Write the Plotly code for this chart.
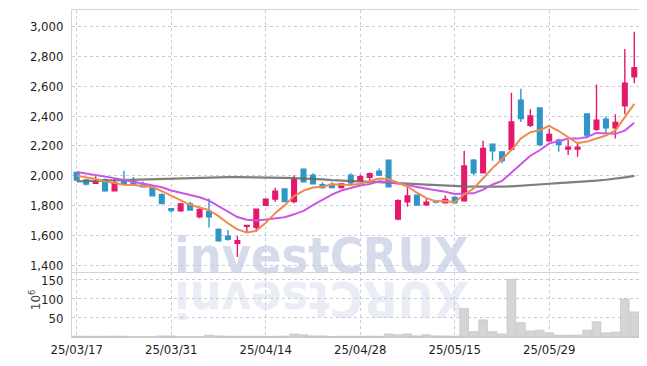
import plotly.graph_objects as go

dates = ["25/03/17", "25/03/18", "25/03/19", "25/03/20", "25/03/21", "25/03/24", "25/03/25", "25/03/26",
         "25/03/27", "25/03/28", "25/03/31", "25/04/01", "25/04/02", "25/04/03", "25/04/04", "25/04/07",
         "25/04/08", "25/04/09", "25/04/10", "25/04/11", "25/04/14", "25/04/15", "25/04/16", "25/04/17",
         "25/04/18", "25/04/21", "25/04/22", "25/04/23", "25/04/24", "25/04/25", "25/04/28", "25/04/29",
         "25/04/30", "25/05/02", "25/05/07", "25/05/08", "25/05/09", "25/05/12", "25/05/13", "25/05/14",
         "25/05/15", "25/05/16", "25/05/19", "25/05/20", "25/05/21", "25/05/22", "25/05/23", "25/05/26",
         "25/05/27", "25/05/28", "25/05/29", "25/05/30", "25/06/02", "25/06/04", "25/06/05", "25/06/09",
         "25/06/10", "25/06/11", "25/06/12", "25/06/13"]

opens = [2022, 1971, 1949, 1973, 1899, 1971, 1962, 1937, 1917, 1873,
         1779, 1765, 1810, 1725, 1758, 1640, 1595, 1546, 1660, 1654,
         1801, 1843, 1911, 1826, 2043, 2004, 1940, 1942, 1920, 2004,
         1967, 1989, 2031, 2105, 1709, 1825, 1870, 1805, 1830, 1819,
         1855, 1832, 2105, 2020, 2212, 2159, 2177, 2506, 2338, 2455,
         2235, 2239, 2179, 2179, 2414, 2311, 2380, 2322, 2470, 2664]
highs = [2027, 1978, 1996, 1982, 1982, 2034, 1991, 1962, 1922, 1882,
         1781, 1819, 1826, 1781, 1848, 1647, 1635, 1597, 1667, 1778,
         1845, 1920, 1911, 2004, 2043, 2016, 1956, 1956, 1951, 2016,
         2009, 2022, 2049, 2105, 1842, 1933, 1870, 1852, 1837, 1868,
         1864, 2168, 2112, 2235, 2217, 2166, 2557, 2584, 2446, 2460,
         2317, 2250, 2239, 2228, 2418, 2612, 2396, 2412, 2850, 2966]
lows = [1966, 1935, 1947, 1893, 1899, 1935, 1935, 1922, 1860, 1810,
        1754, 1758, 1765, 1714, 1653, 1557, 1564, 1455, 1617, 1624,
        1798, 1826, 1826, 1815, 1960, 1942, 1913, 1918, 1915, 1944,
        1960, 1967, 2000, 1926, 1702, 1792, 1803, 1798, 1814, 1814,
        1815, 1826, 2004, 2020, 2100, 2083, 2170, 2360, 2327, 2197,
        2228, 2161, 2139, 2128, 2250, 2300, 2284, 2250, 2412, 2620]
closes = [1971, 1944, 1958, 1899, 1951, 1944, 1935, 1926, 1866, 1814,
          1767, 1810, 1770, 1774, 1725, 1564, 1573, 1564, 1667, 1775,
          1842, 1897, 1826, 1976, 1960, 1946, 1920, 1920, 1944, 1953,
          1993, 2013, 2004, 1926, 1832, 1864, 1803, 1823, 1823, 1841,
          1819, 2065, 2020, 2183, 2168, 2101, 2360, 2383, 2401, 2210,
          2277, 2210, 2192, 2192, 2273, 2373, 2322, 2358, 2620, 2724]

ma_short = [2000, 1990, 1978, 1962, 1950, 1940, 1937, 1931, 1924, 1897,
            1865, 1837, 1805, 1787, 1769, 1729, 1681, 1640, 1619, 1630,
            1684, 1749, 1801, 1863, 1900, 1921, 1926, 1942, 1938, 1937,
            1946, 1965, 1981, 1978, 1954, 1928, 1886, 1850, 1829, 1831,
            1822, 1874, 1914, 1986, 2051, 2110, 2172, 2250, 2292, 2305,
            2335, 2300, 2260, 2218, 2229, 2248, 2270, 2304, 2392, 2482]
ma_mid = [2025, 2016, 2004, 1993, 1984, 1971, 1960, 1950, 1938, 1923,
          1901, 1887, 1868, 1856, 1833, 1795, 1759, 1723, 1705, 1700,
          1706, 1715, 1721, 1741, 1764, 1803, 1837, 1873, 1901, 1918,
          1934, 1945, 1963, 1958, 1945, 1937, 1925, 1916, 1903, 1892,
          1878, 1880, 1882, 1907, 1941, 1965, 2020, 2076, 2134, 2171,
          2217, 2231, 2249, 2249, 2260, 2287, 2283, 2281, 2303, 2356]
ma_long = [1962, 1964, 1966, 1968, 1970, 1972, 1974, 1976, 1978, 1980,
           1982, 1984, 1986, 1988, 1989, 1990, 1990, 1990, 1990, 1989,
           1988, 1987, 1986, 1984, 1982, 1979, 1975, 1970, 1966, 1963,
           1961, 1959, 1957, 1955, 1952, 1948, 1944, 1940, 1936, 1933,
           1930, 1928, 1927, 1926, 1926, 1927, 1929, 1932, 1936, 1941,
           1946, 1950, 1953, 1957, 1962, 1967, 1973, 1980, 1989, 1999]

volume = [2.5, 2, 2, 2, 2.5, 2, 1, 1, 1, 3,
          3, 1, 1, 1, 5, 3, 2, 2, 2, 2,
          2, 2, 2.5, 8, 6, 3, 3, 1.5, 2, 2,
          2, 2.5, 2, 8, 6, 8, 3, 6, 3, 3,
          2.5, 75, 14, 45, 14, 8, 152, 38, 16, 18,
          11, 5, 5, 5, 18, 40, 11, 13, 100, 66]

tick_dates = ["25/03/17", "25/03/31", "25/04/14", "25/04/28", "25/05/15", "25/05/29"]
price_ticks = [1400, 1600, 1800, 2000, 2200, 2400, 2600, 2800, 3000]
vol_ticks = [50, 100, 150]

UP = "#e4196c"
DOWN = "#2f96c8"
GRID = "#c6cbdf"
FONT = "DejaVu Sans Condensed, Liberation Sans Narrow, sans-serif"

fig = go.Figure()

fig.add_trace(go.Bar(
    x=dates, y=volume, xaxis="x2", yaxis="y2",
    marker=dict(color="#d5d5d7", line=dict(color="#bdbdc0", width=0.6)),
    showlegend=False, hoverinfo="skip"))

fig.add_trace(go.Candlestick(
    x=dates, open=opens, high=highs, low=lows, close=closes,
    increasing=dict(line=dict(color=UP, width=1.4), fillcolor=UP),
    decreasing=dict(line=dict(color=DOWN, width=1.4), fillcolor=DOWN),
    whiskerwidth=0, showlegend=False))

fig.add_trace(go.Scatter(x=dates, y=ma_long, mode="lines",
                         line=dict(color="rgba(105,105,105,0.85)", width=2.2), showlegend=False))
fig.add_trace(go.Scatter(x=dates, y=ma_mid, mode="lines",
                         line=dict(color="#cc55e6", width=2), showlegend=False))
fig.add_trace(go.Scatter(x=dates, y=ma_short, mode="lines",
                         line=dict(color="#ef8a4f", width=2), showlegend=False))

vol_frac = 65 / 327

axis_common = dict(
    type="category", range=[-0.5, 59.5], tickmode="array", tickvals=tick_dates,
    showgrid=True, gridcolor=GRID, griddash="dot", gridwidth=1,
    zeroline=False, ticks="", automargin=False,
)

# the page body has an 8px margin; figure size/margins compensate for it
fig.update_layout(
    width=631, height=350,
    margin=dict(l=64, r=0, t=2, b=21),
    paper_bgcolor="white", plot_bgcolor="white",
    font=dict(family=FONT, size=13, color="#1e1e1e"),
    bargap=0.08,
    xaxis=dict(**axis_common, anchor="y", domain=[0, 1], showticklabels=False,
               showline=True, linecolor="#d4d4d8", linewidth=1, mirror=True,
               rangeslider=dict(visible=False)),
    xaxis2=dict(**axis_common, anchor="y2", domain=[0, 1], matches="x",
                showticklabels=True, ticktext=tick_dates,
                showline=True, linecolor="#c8c8cc", linewidth=1,
                tickfont=dict(family=FONT, size=13, color="#1e1e1e")),
    yaxis=dict(domain=[vol_frac, 1], range=[1354, 3112], tickmode="array", tickvals=price_ticks,
               tickformat=",d", showgrid=True, gridcolor=GRID, griddash="dot", gridwidth=1,
               zeroline=False, showline=True, linecolor="#d4d4d8", linewidth=1, ticks="",
               ticklabelstandoff=5, automargin=False),
    yaxis2=dict(domain=[0, vol_frac], range=[0, 171], tickmode="array", tickvals=vol_ticks,
                showgrid=True, gridcolor=GRID, griddash="dot", gridwidth=1,
                zeroline=False, showline=True, linecolor="#d4d4d8", linewidth=1, ticks="",
                ticklabelstandoff=5, automargin=False),
)

fig.add_annotation(text="10<sup>6</sup>", xref="paper", yref="paper",
                   x=-0.065, y=0.113, xanchor="center", yanchor="middle",
                   showarrow=False, textangle=-90,
                   font=dict(family="DejaVu Sans, sans-serif", size=12, color="#444444"))

WM_FONT = "DejaVu Sans Condensed, Liberation Sans Narrow, sans-serif"
fig.add_shape(type="rect", xref="paper", yref="paper", x0=0.17, x1=0.71, y0=0.19, y1=0.33,
              line=dict(width=0), fillcolor="rgba(0,0,0,0)", layer="below",
              label=dict(text="<b>investCRUX</b>", textposition="middle center",
                         font=dict(family=WM_FONT, size=50, color="rgba(185,195,222,0.6)")))
fig.add_shape(type="rect", xref="paper", yref="paper", x0=0.17, x1=0.71, y0=0.035, y1=0.175,
              line=dict(width=0), fillcolor="rgba(0,0,0,0)", layer="below",
              label=dict(text="<b>XURCtsevni</b>", textposition="middle center", textangle=180,
                         font=dict(family=WM_FONT, size=50, color="rgba(185,195,222,0.3)")))

fig.write_html("out.html")
